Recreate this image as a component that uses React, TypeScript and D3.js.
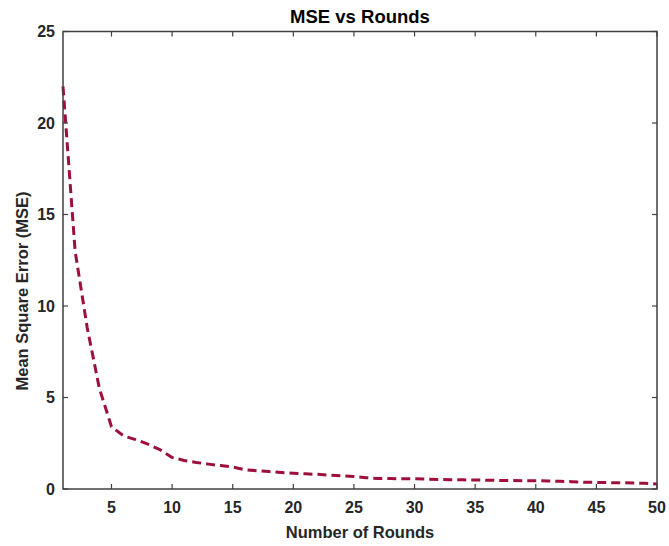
import React from "react";
import * as d3 from "d3";

const rounds: number[] = Array.from({ length: 50 }, (_, i) => i + 1);
const mse: number[] = [
  22.0, 13.0, 8.8, 5.5, 3.4, 2.9, 2.7, 2.45, 2.15, 1.72,
  1.56, 1.45, 1.36, 1.28, 1.2, 1.05, 1.0, 0.95, 0.9, 0.86,
  0.83, 0.8, 0.76, 0.72, 0.68, 0.62, 0.57, 0.57, 0.56, 0.56,
  0.54, 0.52, 0.5, 0.5, 0.49, 0.48, 0.47, 0.46, 0.45, 0.45,
  0.44, 0.42, 0.4, 0.37, 0.36, 0.35, 0.34, 0.33, 0.31, 0.27,
];
const xTicks: number[] = [5, 10, 15, 20, 25, 30, 35, 40, 45, 50];
const yTicks: number[] = [0, 5, 10, 15, 20, 25];

const W = 669;
const H = 546;
const M = { left: 63, right: 12, top: 31.5, bottom: 57 };

export default function App() {
  const x = d3.scaleLinear().domain([1, 50]).range([M.left, W - M.right]);
  const y = d3.scaleLinear().domain([0, 25]).range([H - M.bottom, M.top]);
  const line = d3
    .line<number>()
    .x((_, i) => x(rounds[i]))
    .y((d) => y(d));
  const axisColor = "#404040";
  const font = "'Liberation Sans', Arial, sans-serif";
  const x0 = x.range()[0];
  const x1 = x.range()[1];
  const y0 = y.range()[0];
  const y1 = y.range()[1];
  const tick = 5;

  return (
    <svg
      width={W}
      height={H}
      style={{ position: "absolute", left: 0, top: 0, background: "#fff" }}
      fontFamily={font}
    >
      <rect x={0} y={0} width={W} height={H} fill="#fff" />
      <path
        d={line(mse) || ""}
        fill="none"
        stroke="#9e0f3a"
        strokeWidth={3}
        strokeDasharray="9,5"
        strokeLinejoin="round"
      />
      {/* axes box */}
      <rect
        x={x0}
        y={y1}
        width={x1 - x0}
        height={y0 - y1}
        fill="none"
        stroke={axisColor}
        strokeWidth={1.5}
      />
      {xTicks.map((t) => (
        <g key={"x" + t}>
          <line x1={x(t)} x2={x(t)} y1={y0} y2={y0 - tick} stroke={axisColor} strokeWidth={1.2} />
          <line x1={x(t)} x2={x(t)} y1={y1} y2={y1 + tick} stroke={axisColor} strokeWidth={1.2} />
          <text
            x={x(t)}
            y={y0 + 24}
            textAnchor="middle"
            fontSize={16}
            fontWeight="bold"
            fill="#262626"
          >
            {t}
          </text>
        </g>
      ))}
      {yTicks.map((t) => (
        <g key={"y" + t}>
          <line x1={x0} x2={x0 + tick} y1={y(t)} y2={y(t)} stroke={axisColor} strokeWidth={1.2} />
          <line x1={x1} x2={x1 - tick} y1={y(t)} y2={y(t)} stroke={axisColor} strokeWidth={1.2} />
          <text
            x={x0 - 8}
            y={y(t)}
            dy="0.35em"
            textAnchor="end"
            fontSize={16}
            fontWeight="bold"
            fill="#262626"
          >
            {t}
          </text>
        </g>
      ))}
      <text
        x={(x0 + x1) / 2}
        y={22.5}
        textAnchor="middle"
        fontSize={18.5}
        fontWeight="bold"
        fill="#000"
      >
        MSE vs Rounds
      </text>
      <text
        x={(x0 + x1) / 2}
        y={538}
        textAnchor="middle"
        fontSize={16.5}
        fontWeight="bold"
        fill="#262626"
      >
        Number of Rounds
      </text>
      <text
        transform={`translate(28,291) rotate(-90)`}
        textAnchor="middle"
        fontSize={16.5}
        fontWeight="bold"
        fill="#262626"
      >
        Mean Square Error (MSE)
      </text>
    </svg>
  );
}
